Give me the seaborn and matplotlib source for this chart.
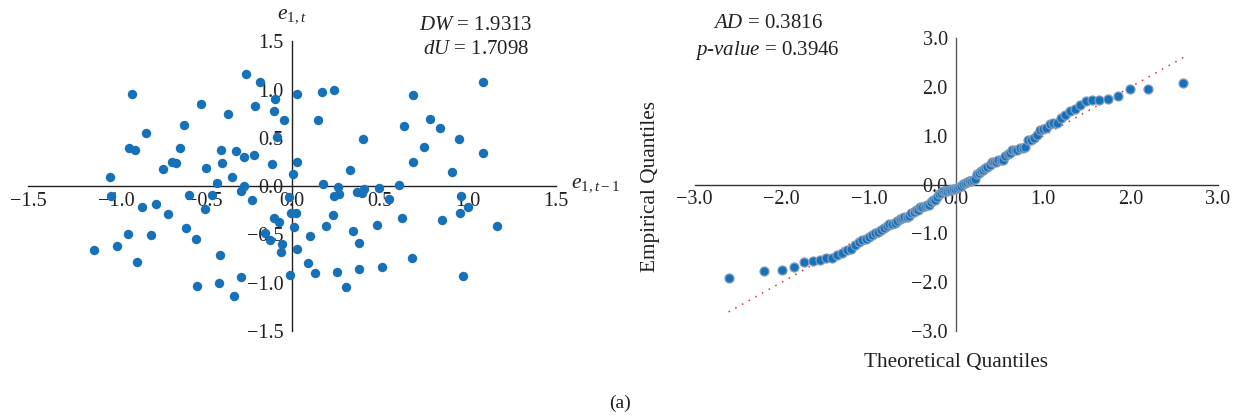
import numpy as np
import pandas as pd
import matplotlib
matplotlib.use("Agg")
import matplotlib.pyplot as plt
from matplotlib.ticker import FuncFormatter
import seaborn as sns
from statistics import NormalDist

# ---- data ----
# residual pairs (e_{1,t-1}, e_{1,t})
resid_lag = [-1.034, -0.911, -0.831, -0.926, -0.892, -0.735, -0.684, -0.659, -0.636, -0.612,
             -0.515, -0.490, -0.428, -0.402, -0.396, -0.362, -0.343, -0.320, -0.271, -0.263,
             -0.271, -0.292, -0.214, -0.210, -0.180, -0.227, -0.115, -0.097, -0.100, -0.044,
             -0.087, 0.004, 0.027, 0.030, -0.019, -1.028, -0.851, -0.775, -0.703, -0.583,
             -0.494, -0.455, -0.602, -0.547, -0.932, -0.799, -0.996, -1.123, -0.879, -0.411,
             -0.541, -0.415, -0.292, -0.330, -0.102, -0.076, -0.152, -0.125, -0.059, -0.063,
             -0.007, 0.023, 0.013, 0.027, -0.011, 0.170, 0.239, 0.150, 0.405, 0.330,
             0.178, 0.261, 0.239, 0.265, 0.371, 0.400, 0.411, 0.492, 0.610, 0.636,
             0.689, 0.686, 0.750, 0.784, 0.841, 0.949, 0.909, 1.087, 1.087, 0.958,
             0.549, 0.231, 0.191, 0.100, 0.345, 0.379, 0.485, 0.625, 0.852, 0.955,
             1.002, 1.163, 0.093, 0.131, 0.256, 0.381, 0.510, 0.684, 0.309, 0.974]
resid = [0.096, 0.953, 0.546, 0.397, 0.376, 0.173, 0.252, 0.235, 0.397, 0.632,
         0.850, 0.190, 0.028, 0.373, 0.235, 0.743, 0.090, 0.366, 0.304, 1.161,
         0.003, -0.049, 0.321, 0.832, 1.081, -0.145, 0.228, 0.902, 0.777, 0.684,
         0.511, 0.124, 0.953, 0.252, -0.110, -0.104, -0.214, -0.183, -0.293, -0.090,
         -0.235, -0.093, -0.432, -0.546, -0.494, -0.501, -0.619, -0.666, -0.784, -0.708,
         -1.036, -1.002, -0.940, -1.133, -0.335, -0.370, -0.484, -0.560, -0.604, -0.687,
         -0.273, -0.273, -0.422, -0.646, -0.915, 0.971, 0.998, 0.681, 0.487, 0.163,
         0.021, -0.007, -0.104, -0.086, -0.065, -0.070, -0.028, -0.018, 0.007, 0.622,
         0.943, 0.252, 0.401, 0.691, 0.604, 0.484, 0.142, 1.081, 0.339, -0.100,
         -0.128, -0.297, -0.408, -0.515, -0.463, -0.591, -0.404, -0.328, -0.352, -0.280,
         -0.218, -0.415, -0.801, -0.898, -0.888, -0.860, -0.839, -0.739, -1.043, -0.933]

left_ticks = [-1.5, -1.0, -0.5, 0.0, 0.5, 1.0, 1.5]
right_ticks = [-3.0, -2.0, -1.0, 0.0, 1.0, 2.0, 3.0]
dw_text = ["$DW$ = 1.9313", "$dU$ = 1.7098"]
ad_text = ["$AD$ = 0.3816", "$p$-$value$ = 0.3946"]

# ---- Q-Q table ----
r = np.asarray(resid)
emp = np.sort((r - r.mean()) / r.std(ddof=1))
n = len(emp)
theo = np.array([NormalDist().inv_cdf((i - 0.5) / n) for i in range(1, n + 1)])
qq = pd.DataFrame({"theoretical": theo, "empirical": emp})
sc = pd.DataFrame({"lag": resid_lag, "cur": resid})

# ---- style ----
sns.set_style("white")
plt.rcParams["font.family"] = ["Liberation Serif", "DejaVu Serif"]
plt.rcParams["mathtext.fontset"] = "custom"
plt.rcParams["mathtext.rm"] = "Liberation Serif"
plt.rcParams["mathtext.it"] = "Liberation Serif:italic"
plt.rcParams["axes.unicode_minus"] = True

TXT = "#231f20"
BLUE = "#1671b9"
W, H = 1242, 416

fig = plt.figure(figsize=(W / 100, H / 100), dpi=100)


def px_box(x0, x1, ytop, ybot):
    return [x0 / W, 1 - ybot / H, (x1 - x0) / W, (ybot - ytop) / H]


fmt = FuncFormatter(lambda v, p: ("%.1f" % (0.0 if abs(v) < 1e-9 else v)).replace("-", "\u2212"))


def style(ax, ticks_x, ticks_y, xcol, ycol):
    for s in ["top", "right"]:
        ax.spines[s].set_visible(False)
    ax.spines["left"].set_position("zero")
    ax.spines["bottom"].set_position("zero")
    ax.spines["bottom"].set_color(xcol)
    ax.spines["left"].set_color(ycol)
    ax.spines["bottom"].set_linewidth(1.0)
    ax.spines["left"].set_linewidth(1.0)
    ax.set_xticks(ticks_x)
    ax.set_yticks(ticks_y)
    ax.xaxis.set_major_formatter(fmt)
    ax.yaxis.set_major_formatter(fmt)
    ax.tick_params(axis="x", direction="in", length=3, width=0.9, color=xcol,
                   labelsize=14.5, labelcolor=TXT, pad=4)
    ax.tick_params(axis="y", direction="in", length=3, width=0.9, color=ycol,
                   labelsize=14.5, labelcolor=TXT, pad=6)
    ax.set_xlim(ticks_x[0], ticks_x[-1])
    ax.set_ylim(ticks_y[0], ticks_y[-1])
    ax.set_xlabel("")
    ax.set_ylabel("")
    ax.patch.set_alpha(0)


# left: residual lag scatter
ax1 = fig.add_axes(px_box(28, 556, 41.3, 331))
sns.scatterplot(data=sc, x="lag", y="cur", ax=ax1, color=BLUE, s=46,
                linewidth=0, legend=False, zorder=3, clip_on=False)
style(ax1, left_ticks, left_ticks, TXT, TXT)
ax1.text(0.0, 1.77, "$e_{1,t}$", ha="center", va="center", fontsize=15.5, color=TXT,
         clip_on=False)
ax1.text(1.585, 0.02, "$e_{1,t-1}$", ha="left", va="center", fontsize=15.5, color=TXT,
         clip_on=False)

# right: normal Q-Q plot
ax2 = fig.add_axes(px_box(694.5, 1217.5, 38.4, 331))
ax2.plot([theo[0], theo[-1]], [theo[0], theo[-1]], color="#e8282b", ls=(0, (1, 4)),
         lw=1.1, zorder=2)
sns.scatterplot(data=qq, x="theoretical", y="empirical", ax=ax2, color=BLUE, s=42,
                edgecolor="#7d9cbf", linewidth=0.9, legend=False, zorder=3, clip_on=False)
style(ax2, right_ticks, right_ticks, "#333333", "#5a5a5a")

# annotation texts (figure pixel positions)
def ftext(x, y, s, **kw):
    fig.text(x / W, 1 - y / H, s, ha="center", va="center", color=TXT, **kw)


ftext(476, 25, dw_text[0], fontsize=15)
ftext(476, 49, dw_text[1], fontsize=15)
ftext(768, 24, ad_text[0], fontsize=15)
ftext(767, 50, ad_text[1], fontsize=15)
ftext(650, 187, "Empirical Quantiles", fontsize=15.3, rotation=90)
ftext(956, 363, "Theoretical Quantiles", fontsize=15.3)
ftext(620, 403, "(a)", fontsize=14)

fig.savefig("out.png", dpi=100)
